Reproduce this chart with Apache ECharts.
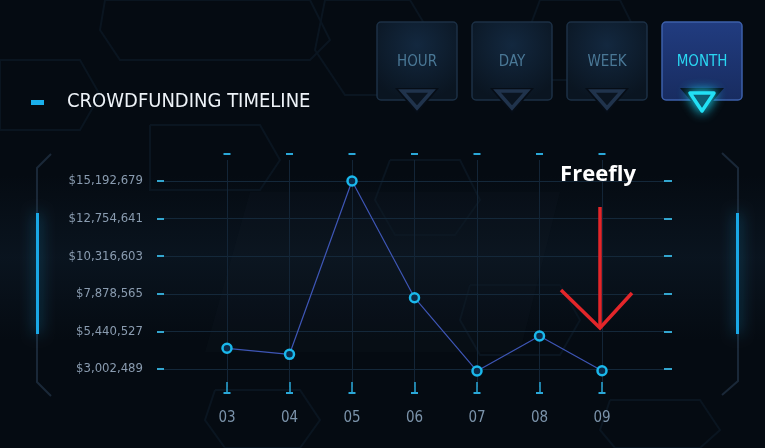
<!DOCTYPE html>
<html>
<head>
<meta charset="utf-8">
<script src="https://cdn.jsdelivr.net/npm/echarts@6/dist/echarts.min.js"></script>
<style>
html,body{margin:0;padding:0;background:#050b12;}
#chart{width:765px;height:448px;}
</style>
</head>
<body>
<div id="chart"></div>
<script>
// ---- data ----
const months = ['03', '04', '05', '06', '07', '08', '09'];
const funding = [4345000, 3955000, 15192679, 7625000, 2870000, 5143000, 2890000];
const yTickLabels = ['$3,002,489', '$5,440,527', '$7,878,565', '$10,316,603', '$12,754,641', '$15,192,679'];
const yMin = 3002489;
const yMax = 15192679;
const ranges = ['HOUR', 'DAY', 'WEEK', 'MONTH'];
const activeRange = 'MONTH';
const chartTitle = 'CROWDFUNDING TIMELINE';
const annotation = 'Freefly';

const FONT = '"DejaVu Sans Condensed", "DejaVu Sans", sans-serif';

// ---- decorative graphics ----
const graphics = [];
graphics.push({ type: 'rect', shape: { x: 0, y: 0, width: 765, height: 448 }, style: { fill: '#050b12' }, z: -20, silent: true });
graphics.push({ type: 'rect', shape: { x: 0, y: 175, width: 765, height: 165 },
  style: { fill: { type: 'linear', x: 0, y: 0, x2: 0, y2: 1, colorStops: [
    { offset: 0, color: 'rgba(20,40,60,0)' }, { offset: 0.5, color: 'rgba(20,40,60,0.3)' }, { offset: 1, color: 'rgba(20,40,60,0)' }] } },
  z: -19, silent: true });
// faint hexagon outlines
const hexes = [
  [[105, 0], [310, 0], [330, 40], [310, 60], [120, 60], [100, 30]],
  [[150, 125], [260, 125], [280, 160], [260, 190], [150, 190]],
  [[325, 0], [410, 0], [440, 50], [410, 95], [345, 95], [315, 50]],
  [[540, 0], [620, 0], [640, 40], [620, 80], [545, 80], [525, 40]],
  [[0, 60], [80, 60], [100, 95], [80, 130], [0, 130]],
  [[470, 285], [560, 285], [580, 320], [560, 355], [480, 355], [460, 320]],
  [[215, 390], [300, 390], [320, 420], [300, 448], [225, 448], [205, 420]],
  [[610, 400], [700, 400], [720, 430], [700, 448], [615, 448], [600, 430]],
  [[390, 160], [460, 160], [480, 200], [455, 235], [395, 235], [375, 200]]
];
hexes.forEach(p => graphics.push({ type: 'polyline', shape: { points: p.concat([p[0]]) },
  style: { stroke: '#0a1520', lineWidth: 2, fill: null }, z: -18, silent: true }));
// faint logo parallelogram
graphics.push({ type: 'polygon', shape: { points: [[250, 192], [560, 192], [520, 352], [205, 352]] },
  style: { fill: 'rgba(40,55,70,0.08)' }, z: -17, silent: true });

// side brackets
graphics.push({ type: 'polyline', shape: { points: [[51, 154], [37, 168], [37, 382], [51, 396]] },
  style: { stroke: '#1a2838', lineWidth: 2, fill: null }, z: 1, silent: true });
graphics.push({ type: 'polyline', shape: { points: [[722, 153], [738, 168], [738, 381], [722, 395]] },
  style: { stroke: '#1a2838', lineWidth: 2, fill: null }, z: 1, silent: true });
graphics.push({ type: 'rect', shape: { x: 36, y: 213, width: 3, height: 121 },
  style: { fill: '#1aa8e6', shadowBlur: 14, shadowColor: 'rgba(26,168,230,0.7)' }, z: 2, silent: true });
graphics.push({ type: 'rect', shape: { x: 736, y: 213, width: 3, height: 121 },
  style: { fill: '#1aa8e6', shadowBlur: 14, shadowColor: 'rgba(26,168,230,0.7)' }, z: 2, silent: true });

// title
graphics.push({ type: 'rect', shape: { x: 31, y: 100, width: 13, height: 5 }, style: { fill: '#1ab0ec' }, z: 3, silent: true });
graphics.push({ type: 'text', x: 67, y: 102, style: { text: chartTitle, fill: '#eef3f8', font: '20px ' + FONT, textVerticalAlign: 'middle' }, z: 3, silent: true });

// range buttons
ranges.forEach((r, i) => {
  const x0 = 377 + i * 95, cx = x0 + 40;
  const active = r === activeRange;
  graphics.push({ type: 'rect', shape: { x: x0, y: 22, width: 80, height: 78, r: 4 },
    style: {
      fill: active
        ? { type: 'linear', x: 0, y: 0, x2: 0, y2: 1, colorStops: [{ offset: 0, color: '#213c80' }, { offset: 1, color: '#182c60' }] }
        : { type: 'radial', x: 0.5, y: 0.3, r: 0.7, colorStops: [{ offset: 0, color: '#13283f' }, { offset: 1, color: '#0a1521' }] },
      stroke: active ? '#3d60aa' : '#1c3045', lineWidth: 1.5
    }, z: 3, silent: true });
  graphics.push({ type: 'text', x: cx, y: 62, style: { text: r, fill: active ? '#2ad7f2' : '#4a7896', font: '15px ' + FONT, textAlign: 'center', textVerticalAlign: 'middle' }, z: 4, silent: true });
  graphics.push({ type: 'polygon', shape: { points: [[cx - 22, 88], [cx + 22, 88], [cx, 114]] },
    style: { fill: '#060d16' }, z: 4, silent: true });
  if (active) {
    graphics.push({ type: 'polygon', shape: { points: [[cx - 12, 93], [cx + 12, 93], [cx, 111]] },
      style: { fill: '#071528', stroke: '#22e0f5', lineWidth: 3.5, lineJoin: 'round', shadowBlur: 12, shadowColor: '#1ad8f5' }, z: 5, silent: true });
  } else {
    graphics.push({ type: 'polygon', shape: { points: [[cx - 15, 91], [cx + 15, 91], [cx, 108]] },
      style: { fill: '#0a1420', stroke: '#20334c', lineWidth: 3.5 }, z: 5, silent: true });
  }
});

// annotation
graphics.push({ type: 'text', x: 598, y: 175, style: { text: annotation, fill: '#ffffff', font: 'bold 22px "Open Sans", sans-serif', textAlign: 'center', textVerticalAlign: 'middle' }, z: 10, silent: true });
graphics.push({ type: 'line', shape: { x1: 600, y1: 207, x2: 600, y2: 326 }, style: { stroke: '#e3262a', lineWidth: 3.5 }, z: 10, silent: true });
graphics.push({ type: 'polyline', shape: { points: [[561, 290], [600, 328], [632, 293]] }, style: { stroke: '#e3262a', lineWidth: 3.5, fill: null }, z: 10, silent: true });

const tBar = { width: 7, height: 2, lineHeight: 2, backgroundColor: '#2aa8d8' };

const option = {
  backgroundColor: 'transparent',
  animation: false,
  graphic: graphics,
  grid: [
    { left: 164, right: 101, top: 181, bottom: 79 },
    { left: 227, right: 163, top: 160, bottom: 61 },
    { left: 227, right: 163, top: 181, bottom: 79 }
  ],
  xAxis: [
    { gridIndex: 0, type: 'value', show: false },
    { gridIndex: 1, type: 'category', data: months, boundaryGap: false, position: 'top',
      axisLine: { show: false },
      axisTick: { show: true, inside: false, length: 5, lineStyle: { color: '#2aa8d8', width: 1.5 } },
      axisLabel: { margin: 5, formatter: () => '{b| }', rich: { b: tBar } },
      splitLine: { show: false } },
    { gridIndex: 1, type: 'category', data: months, boundaryGap: false, position: 'bottom',
      axisLine: { show: false },
      axisTick: { show: true, inside: false, length: 5, lineStyle: { color: '#2aa8d8', width: 1.5 } },
      axisLabel: { margin: 5, formatter: () => '{b| }', rich: { b: tBar } },
      splitLine: { show: true, lineStyle: { color: '#132537', width: 1 } } },
    { gridIndex: 2, type: 'category', data: months, boundaryGap: false,
      axisLine: { show: false }, axisTick: { show: false }, splitLine: { show: false },
      axisLabel: { color: '#7b93aa', fontSize: 15, fontFamily: FONT, margin: 42 } }
  ],
  yAxis: [
    { gridIndex: 0, type: 'category', data: yTickLabels, boundaryGap: false,
      axisLine: { show: false },
      axisTick: { show: true, length: 7, lineStyle: { color: '#33a6cf', width: 2 } },
      axisLabel: { color: '#8a9cb0', fontSize: 13, fontFamily: FONT, margin: 21 },
      splitLine: { show: true, lineStyle: { color: '#14283a', width: 1 } } },
    { gridIndex: 0, type: 'category', data: yTickLabels, boundaryGap: false, position: 'right',
      axisLine: { show: false },
      axisTick: { show: true, length: 8, lineStyle: { color: '#33a6cf', width: 2 } },
      axisLabel: { show: false }, splitLine: { show: false } },
    { gridIndex: 1, type: 'value', show: false },
    { gridIndex: 2, type: 'value', min: yMin, max: yMax, show: false }
  ],
  series: [{
    type: 'line', xAxisIndex: 3, yAxisIndex: 3, data: funding,
    clip: false, symbol: 'circle', symbolSize: 9,
    lineStyle: { color: '#3e56b6', width: 1.2 },
    itemStyle: { color: '#0b2a48', borderColor: '#1ab8ec', borderWidth: 2.5 },
    z: 6
  }]
};

const chart = echarts.init(document.getElementById('chart'), null, { renderer: 'canvas' });
chart.setOption(option);
</script>
</body>
</html>
